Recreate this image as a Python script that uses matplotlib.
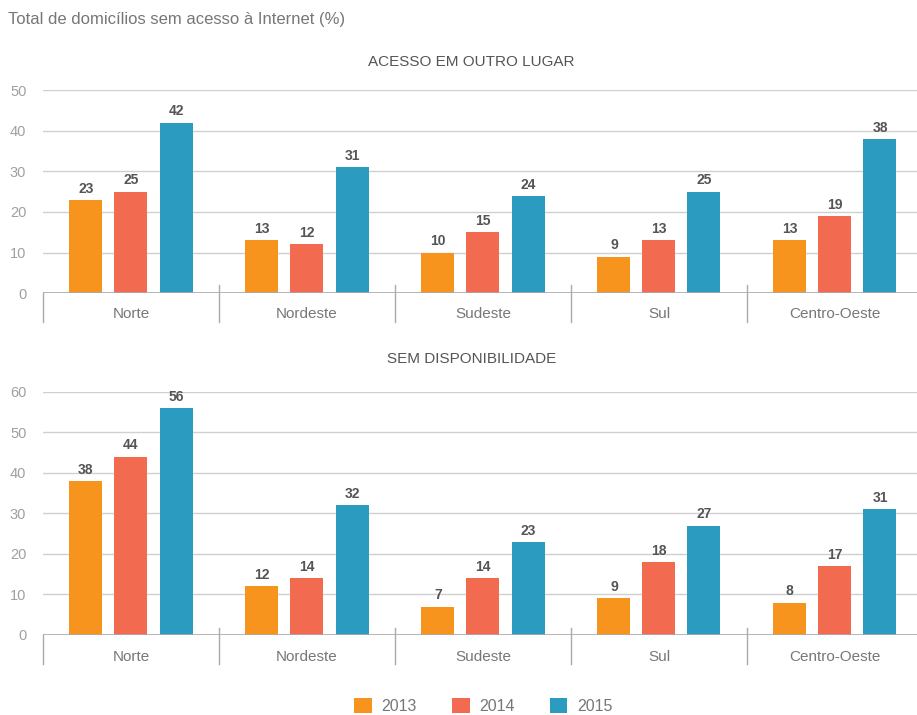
import numpy as np
import matplotlib.pyplot as plt
from matplotlib.patches import Patch

regioes = ['Norte', 'Nordeste', 'Sudeste', 'Sul', 'Centro-Oeste']
anos = ['2013', '2014', '2015']

# acesso em outro lugar
outro_2013 = [23, 13, 10, 9, 13]
outro_2014 = [25, 12, 15, 13, 19]
outro_2015 = [42, 31, 24, 25, 38]

# sem disponibilidade
sem_2013 = [38, 12, 7, 9, 8]
sem_2014 = [44, 14, 14, 18, 17]
sem_2015 = [56, 32, 23, 27, 31]

cores = ['#F7941D', '#F26B50', '#2B9BBF']
cinza = '#777777'

plt.rcParams['font.family'] = ['Liberation Sans', 'DejaVu Sans']

fig = plt.figure(figsize=(9.17, 7.15), dpi=100)
ax1 = fig.add_axes([0.0469, 0.590, 0.953, 0.284])
ax2 = fig.add_axes([0.0469, 0.112, 0.953, 0.340])

x = np.arange(len(regioes))
w = 0.1875
offs = [-0.256, 0, 0.256]


def draw(ax, series, ymax, title, sep_top, label_y, pad):
  ax.set_xlim(-0.5, 4.5 - 6 / 176)
  ax.set_ylim(0, ymax)
  for s, off, c in zip(series, offs, cores):
    bars = ax.bar(x + off, s, width=w, color=c, zorder=3)
    for b, v in zip(bars, s):
      ax.annotate(str(v), (b.get_x() + b.get_width() / 2, v),
                  xytext=(0, 3), textcoords='offset points',
                  ha='center', va='bottom', fontsize=10,
                  fontweight='bold', color='#555555')
  ax.set_yticks(np.arange(0, ymax + 1, 10))
  ax.yaxis.grid(True, color='#d0d0d0', linewidth=1, zorder=0)
  ax.axhline(0, color='#aaaaaa', linewidth=1.2, zorder=4)
  ax.tick_params(axis='y', length=0, pad=12, labelsize=10.5, labelcolor='#a0a0a0')
  ax.set_xticks([])
  for sp in ax.spines.values():
    sp.set_visible(False)
  # group separators below the axis
  bottom = label_y * 1.35
  ax.plot([-0.5, -0.5], [0, bottom], color='#aaaaaa', lw=1, clip_on=False)
  for i in range(1, len(regioes)):
    ax.plot([i - 0.5, i - 0.5], [sep_top, bottom], color='#aaaaaa', lw=1,
            clip_on=False, zorder=5)
  for i, r in enumerate(regioes):
    ax.text(i, label_y, r, ha='center', va='center', fontsize=11, color=cinza)
  ax.set_title(title, fontsize=11, color='#555555', pad=pad, x=0.49)


draw(ax1, [outro_2013, outro_2014, outro_2015], 50, 'ACESSO EM OUTRO LUGAR', 2.0, -5.2, 17)
draw(ax2, [sem_2013, sem_2014, sem_2015], 60, 'SEM DISPONIBILIDADE', 1.7, -5.4, 21)

fig.text(0.009, 0.973, 'Total de domicílios sem acesso à Internet (%)',
         fontsize=12, color=cinza, va='center')

handles = [Patch(facecolor=c) for c in cores]
fig.legend(handles, anos, loc='center', bbox_to_anchor=(0.527, 0.013), ncol=3,
           frameon=False, fontsize=11.5, handlelength=1.1, handleheight=1.1,
           columnspacing=2.2, labelcolor=cinza, handletextpad=0.6)

fig.savefig('out.png', dpi=100)
